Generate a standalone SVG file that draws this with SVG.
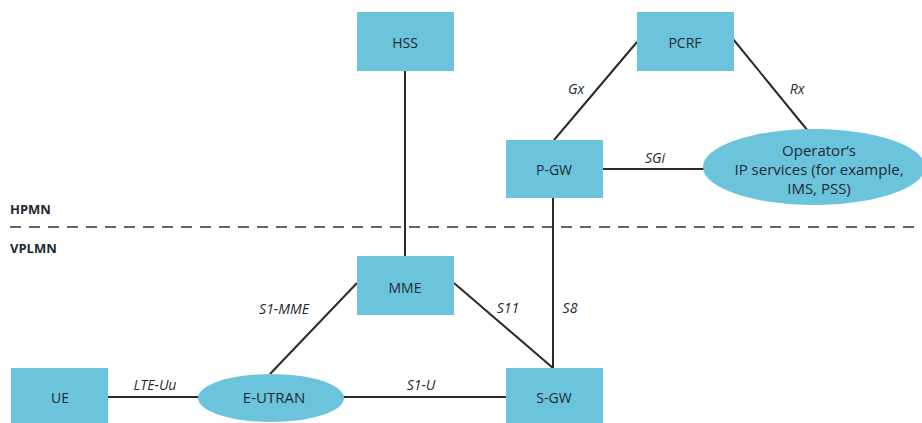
<svg xmlns="http://www.w3.org/2000/svg" width="922" height="423" viewBox="0 0 922 423">
<style>
.box{fill:#6cc4dc}
.t{font-family:"Open Sans","Noto Sans",sans-serif;font-size:14px;fill:#1e2a33;text-anchor:middle}
.te{font-family:"Open Sans","Noto Sans",sans-serif;font-size:15px;fill:#1e2a33;text-anchor:middle}
.lbl{font-family:"Open Sans","Noto Sans",sans-serif;font-size:14px;font-style:italic;fill:#1e2a33;text-anchor:middle}
.zone{font-family:"Open Sans","Noto Sans",sans-serif;font-size:13px;font-weight:bold;fill:#1e2a33}
.c{stroke:#2a2a2a;stroke-width:2;fill:none}
</style>
<rect width="922" height="423" fill="#fff"/>
<g id="divider">
<line x1="10" y1="227" x2="922" y2="227" stroke="#333" stroke-width="1.5" stroke-dasharray="11 8"/>
<text class="zone" x="10" y="214">HPMN</text>
<text class="zone" x="10" y="253">VPLMN</text>
</g>
<g id="connectors">
<line class="c" x1="405" y1="71" x2="405" y2="256"/>
<line class="c" x1="553" y1="198" x2="553" y2="368"/>
<line class="c" x1="637" y1="42" x2="554" y2="140"/>
<line class="c" x1="733" y1="39" x2="808" y2="131"/>
<line class="c" x1="603" y1="169" x2="704" y2="169"/>
<line class="c" x1="357" y1="283" x2="270" y2="374"/>
<line class="c" x1="454" y1="283" x2="553" y2="368"/>
<line class="c" x1="108" y1="397" x2="199" y2="397"/>
<line class="c" x1="343" y1="397" x2="506" y2="397"/>
<text class="lbl" x="576" y="94">Gx</text>
<text class="lbl" x="797" y="94">Rx</text>
<text class="lbl" x="655" y="163">SGi</text>
<text class="lbl" x="284" y="314">S1-MME</text>
<text class="lbl" x="508" y="313">S11</text>
<text class="lbl" x="570" y="313">S8</text>
<text class="lbl" x="155" y="390">LTE-Uu</text>
<text class="lbl" x="421" y="390">S1-U</text>
</g>
<g id="hss"><rect class="box" x="357" y="12" width="97" height="59"/><text class="t" x="405" y="48">HSS</text></g>
<g id="pcrf"><rect class="box" x="637" y="12" width="97" height="59"/><text class="t" x="685" y="48">PCRF</text></g>
<g id="pgw"><rect class="box" x="506" y="140" width="97" height="58"/><text class="t" x="554" y="175">P-GW</text></g>
<g id="ops"><ellipse class="box" cx="814" cy="167" rx="111" ry="38"/>
<text class="te" x="819" y="156">Operator’s</text>
<text class="te" x="819" y="175">IP services (for example,</text>
<text class="te" x="819" y="194">IMS, PSS)</text></g>
<g id="mme"><rect class="box" x="357" y="256" width="97" height="59"/><text class="t" x="405" y="293">MME</text></g>
<g id="ue"><rect class="box" x="11" y="368" width="97" height="58"/><text class="t" x="60" y="403">UE</text></g>
<g id="eutran"><ellipse class="box" cx="271" cy="398" rx="73" ry="24"/><text class="te" x="274" y="403">E-UTRAN</text></g>
<g id="sgw"><rect class="box" x="506" y="368" width="97" height="58"/><text class="t" x="554" y="403">S-GW</text></g>
</svg>
